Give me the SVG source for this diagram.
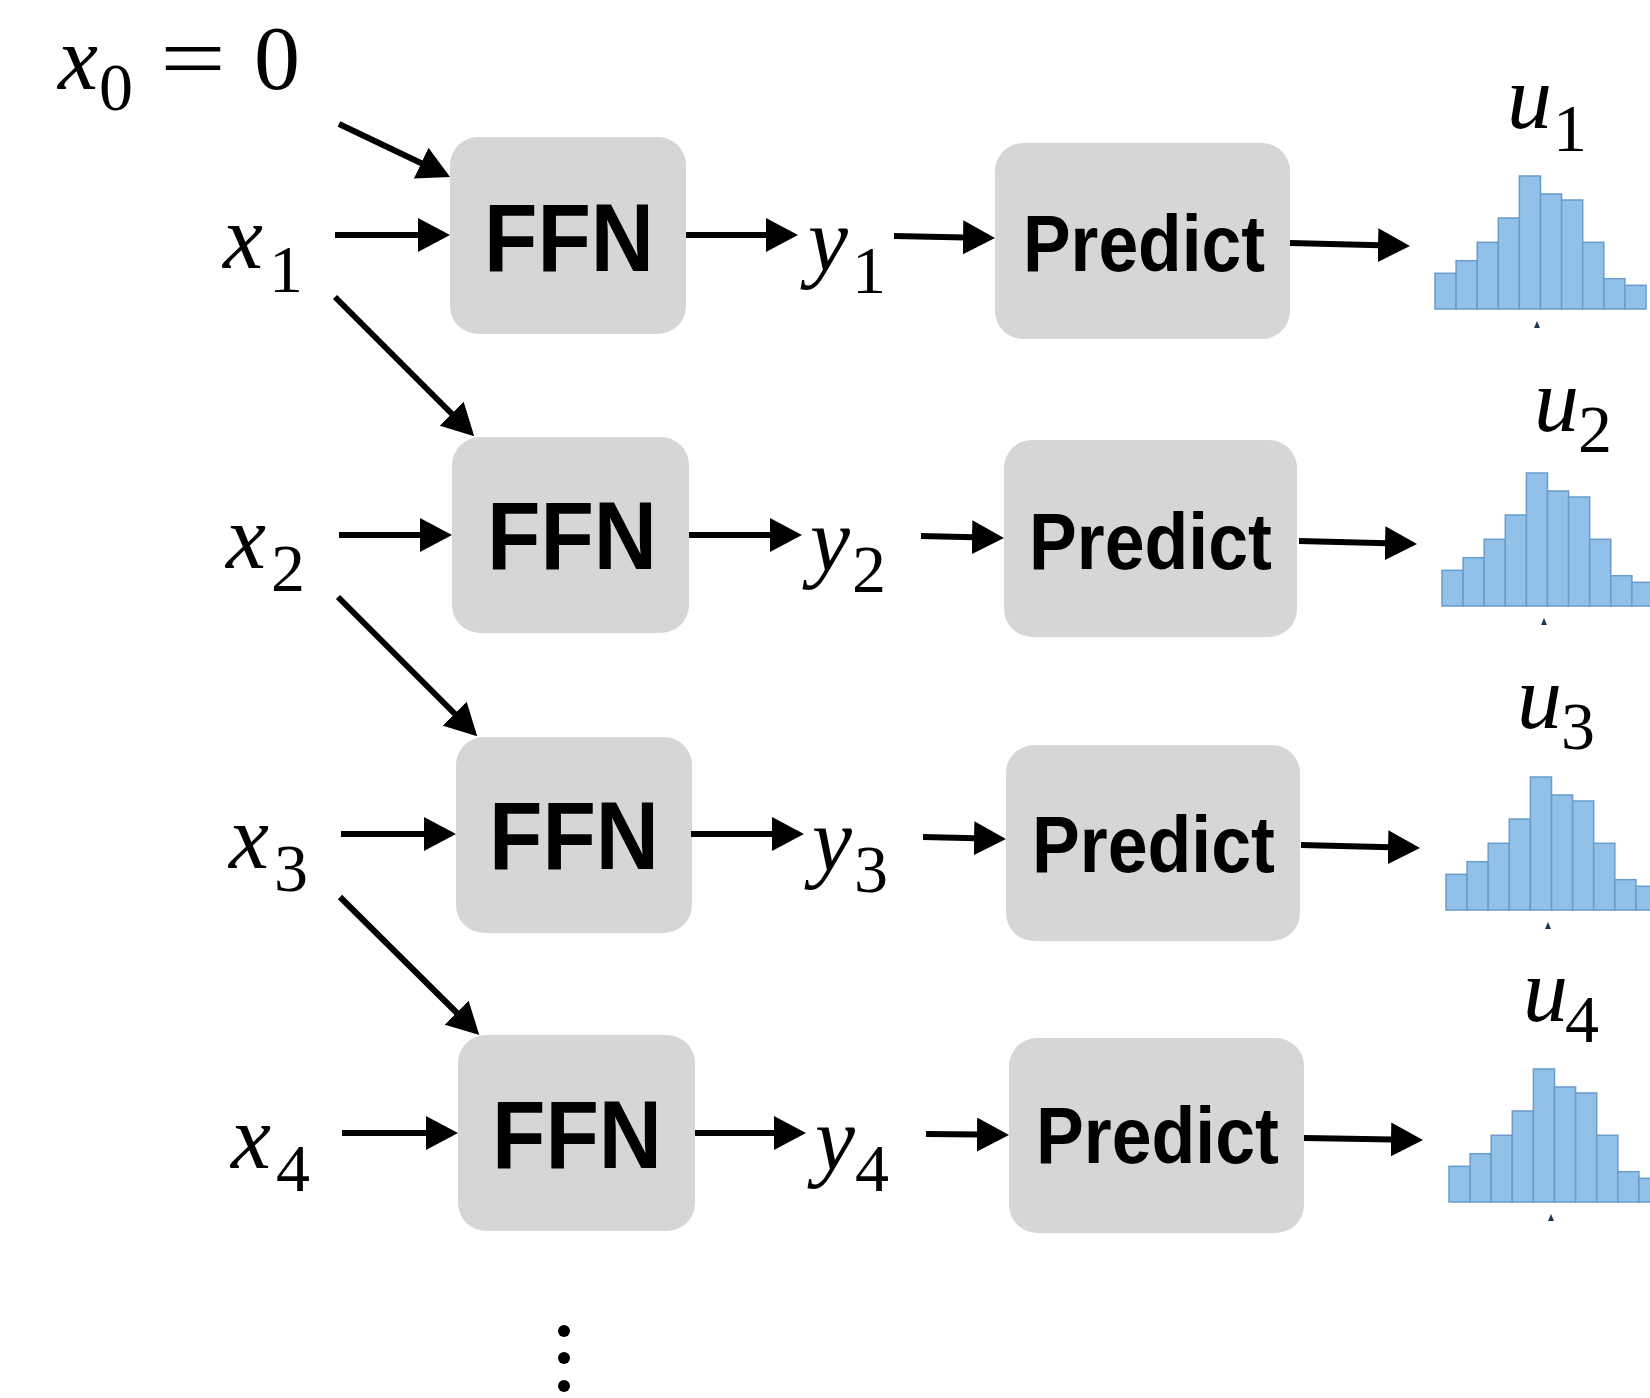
<svg xmlns="http://www.w3.org/2000/svg" xmlns:xlink="http://www.w3.org/1999/xlink" width="1650" height="1398" viewBox="0 0 1650 1398">
  <style>
    .box { fill: #d6d6d6; }
    .ffn { font-family: "Liberation Sans", Arial, sans-serif; font-weight: bold; font-size: 96px; fill: #000; }
    .pred { font-family: "Liberation Sans", Arial, sans-serif; font-weight: bold; font-size: 80px; fill: #000; }
    .m { font-family: "Liberation Serif", "Times New Roman", serif; font-style: italic; font-size: 90px; fill: #000; }
    .s { font-family: "Liberation Serif", "Times New Roman", serif; font-size: 68px; fill: #000; }
    .r { font-family: "Liberation Serif", "Times New Roman", serif; font-size: 92px; fill: #000; }
    .arrow { stroke: #000; stroke-width: 6; fill: none; marker-end: url(#head); }
    .bar { fill: #91c1e9; stroke: #6a9bc9; stroke-width: 1.5; }
    .tick { fill: #1d3554; }
  </style>
  <defs>
    <marker id="head" markerUnits="userSpaceOnUse" markerWidth="32" markerHeight="34" refX="2" refY="17" orient="auto" viewBox="0 0 32 34">
      <path d="M0,0 L32,17 L0,34 Z" fill="#000"/>
    </marker>
    <!-- histogram glyph, origin at left end of baseline -->
    <g id="hist">
      <rect class="bar" x="0" y="-35.7" width="21.1" height="35.7"/>
      <rect class="bar" x="21.1" y="-48.3" width="21.1" height="48.3"/>
      <rect class="bar" x="42.2" y="-66.7" width="21.1" height="66.7"/>
      <rect class="bar" x="63.3" y="-91" width="21.1" height="91"/>
      <rect class="bar" x="84.4" y="-133" width="21.1" height="133"/>
      <rect class="bar" x="105.5" y="-115" width="21.1" height="115"/>
      <rect class="bar" x="126.6" y="-109" width="21.1" height="109"/>
      <rect class="bar" x="147.7" y="-66.7" width="21.1" height="66.7"/>
      <rect class="bar" x="168.8" y="-30.3" width="21.1" height="30.3"/>
      <rect class="bar" x="189.9" y="-23.7" width="21.1" height="23.7"/>
      <path class="tick" d="M99,19 L102,12 L105,19 Z"/>
    </g>
  </defs>

  <rect width="1650" height="1398" fill="#fff"/>

  <!-- input labels -->
  <g id="x0">
    <text class="m" x="58" y="89">x</text>
    <text class="s" x="99" y="110">0</text>
    <text class="r" x="160" y="89" textLength="66" lengthAdjust="spacingAndGlyphs">=</text>
    <text class="r" x="254" y="89">0</text>
  </g>
  <g id="x1"><text class="m" x="223" y="268">x</text><text class="s" x="269" y="292">1</text></g>
  <g id="x2"><text class="m" x="226" y="568">x</text><text class="s" x="271" y="591">2</text></g>
  <g id="x3"><text class="m" x="229" y="868">x</text><text class="s" x="274" y="891">3</text></g>
  <g id="x4"><text class="m" x="231" y="1168">x</text><text class="s" x="276" y="1191">4</text></g>

  <!-- FFN blocks -->
  <g id="ffn1"><rect class="box" x="450" y="137" width="236" height="197" rx="28"/><text class="ffn" x="484" y="271" textLength="170" lengthAdjust="spacingAndGlyphs">FFN</text></g>
  <g id="ffn2"><rect class="box" x="452" y="437" width="237" height="196" rx="28"/><text class="ffn" x="487" y="569" textLength="170" lengthAdjust="spacingAndGlyphs">FFN</text></g>
  <g id="ffn3"><rect class="box" x="456" y="737" width="236" height="196" rx="28"/><text class="ffn" x="489" y="869" textLength="170" lengthAdjust="spacingAndGlyphs">FFN</text></g>
  <g id="ffn4"><rect class="box" x="458" y="1035" width="237" height="196" rx="28"/><text class="ffn" x="492" y="1168" textLength="170" lengthAdjust="spacingAndGlyphs">FFN</text></g>

  <!-- FFN outputs -->
  <g id="y1"><text class="m" x="808" y="271">y</text><text class="s" x="852" y="293">1</text></g>
  <g id="y2"><text class="m" x="810" y="571">y</text><text class="s" x="852" y="592">2</text></g>
  <g id="y3"><text class="m" x="812" y="871">y</text><text class="s" x="854" y="892">3</text></g>
  <g id="y4"><text class="m" x="815" y="1170">y</text><text class="s" x="855" y="1191">4</text></g>

  <!-- Predict blocks -->
  <g id="pred1"><rect class="box" x="995" y="143" width="295" height="196" rx="28"/><text class="pred" x="1023" y="271" textLength="242" lengthAdjust="spacingAndGlyphs">Predict</text></g>
  <g id="pred2"><rect class="box" x="1004" y="440" width="293" height="197" rx="28"/><text class="pred" x="1029" y="569" textLength="243" lengthAdjust="spacingAndGlyphs">Predict</text></g>
  <g id="pred3"><rect class="box" x="1006" y="745" width="294" height="196" rx="28"/><text class="pred" x="1032" y="872" textLength="243" lengthAdjust="spacingAndGlyphs">Predict</text></g>
  <g id="pred4"><rect class="box" x="1009" y="1038" width="295" height="195" rx="28"/><text class="pred" x="1036" y="1163" textLength="243" lengthAdjust="spacingAndGlyphs">Predict</text></g>

  <!-- output distributions -->
  <g id="u1"><text class="m" x="1507" y="128">u</text><text class="s" x="1553" y="151">1</text><use xlink:href="#hist" x="1435" y="309"/></g>
  <g id="u2"><text class="m" x="1534" y="431">u</text><text class="s" x="1578" y="452">2</text><use xlink:href="#hist" x="1442" y="606"/></g>
  <g id="u3"><text class="m" x="1517" y="728">u</text><text class="s" x="1561" y="749">3</text><use xlink:href="#hist" x="1446" y="910"/></g>
  <g id="u4"><text class="m" x="1523" y="1021">u</text><text class="s" x="1565" y="1042">4</text><use xlink:href="#hist" x="1449" y="1202"/></g>

  <!-- continuation dots -->
  <g id="more" fill="#000">
    <circle cx="564" cy="1331" r="6"/>
    <circle cx="564" cy="1358" r="6"/>
    <circle cx="564" cy="1386" r="6"/>
  </g>

  <!-- connectors -->
  <g id="connectors">
    <line class="arrow" x1="339" y1="124" x2="423" y2="164"/>
    <line class="arrow" x1="335" y1="235" x2="420" y2="235"/>
    <line class="arrow" x1="335" y1="297" x2="453" y2="415"/>
    <line class="arrow" x1="339" y1="535" x2="422" y2="535"/>
    <line class="arrow" x1="338" y1="597" x2="456" y2="715"/>
    <line class="arrow" x1="341" y1="834" x2="426" y2="834"/>
    <line class="arrow" x1="340" y1="897" x2="458" y2="1014"/>
    <line class="arrow" x1="342" y1="1133" x2="428" y2="1133"/>

    <line class="arrow" x1="686" y1="235" x2="768" y2="235"/>
    <line class="arrow" x1="689" y1="535" x2="772" y2="535"/>
    <line class="arrow" x1="691" y1="834" x2="774" y2="834"/>
    <line class="arrow" x1="695" y1="1133" x2="776" y2="1133"/>

    <line class="arrow" x1="894" y1="236" x2="965" y2="237.4"/>
    <line class="arrow" x1="921" y1="536" x2="974" y2="537.3"/>
    <line class="arrow" x1="923" y1="837" x2="976" y2="838.3"/>
    <line class="arrow" x1="926" y1="1134" x2="979" y2="1134.6"/>

    <line class="arrow" x1="1290" y1="243" x2="1380" y2="245.2"/>
    <line class="arrow" x1="1299" y1="541" x2="1387" y2="543.2"/>
    <line class="arrow" x1="1301" y1="845" x2="1390" y2="847.2"/>
    <line class="arrow" x1="1304" y1="1138" x2="1393" y2="1139.5"/>
  </g>
</svg>
